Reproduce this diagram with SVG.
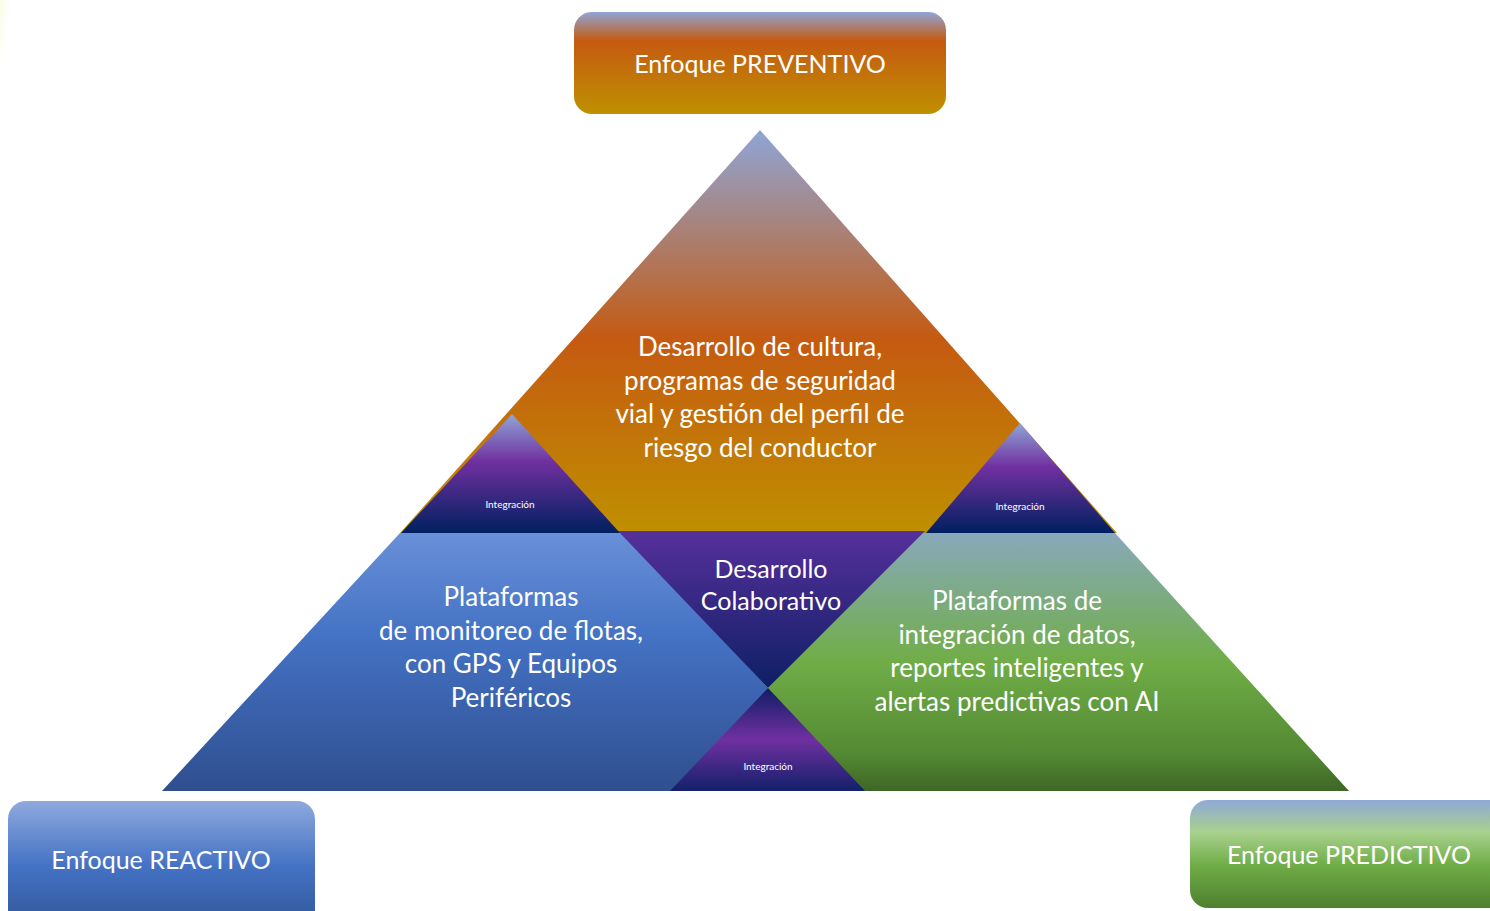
<svg xmlns="http://www.w3.org/2000/svg" width="1490" height="911" viewBox="0 0 1490 911">
<defs>
<linearGradient id="gOr" x1="0" y1="0" x2="0" y2="1">
<stop offset="0" stop-color="#8fa5d6"/><stop offset="0.52" stop-color="#c55a11"/><stop offset="1" stop-color="#bf9000"/>
</linearGradient>
<linearGradient id="gOrBox" x1="0" y1="0" x2="0" y2="1">
<stop offset="0" stop-color="#8fa5d6"/><stop offset="0.28" stop-color="#c55a11"/><stop offset="1" stop-color="#bf9000"/>
</linearGradient>
<linearGradient id="gBl" x1="0" y1="0" x2="0" y2="1">
<stop offset="0" stop-color="#6990d8"/><stop offset="0.4" stop-color="#4472c4"/><stop offset="1" stop-color="#2f4f8f"/>
</linearGradient>
<linearGradient id="gBlBox" x1="0" y1="0" x2="0" y2="1">
<stop offset="0" stop-color="#8fa9dd"/><stop offset="0.5" stop-color="#4472c4"/><stop offset="1" stop-color="#2f5597"/>
</linearGradient>
<linearGradient id="gGr" x1="0" y1="0" x2="0" y2="1">
<stop offset="0" stop-color="#88a9bb"/><stop offset="0.5" stop-color="#70ad47"/><stop offset="0.85" stop-color="#548a33"/><stop offset="1" stop-color="#3e6627"/>
</linearGradient>
<linearGradient id="gGrBox" x1="0" y1="0" x2="0" y2="1">
<stop offset="0" stop-color="#8fa9d6"/><stop offset="0.3" stop-color="#a9d18e"/><stop offset="0.6" stop-color="#70ad47"/><stop offset="1" stop-color="#4e7f2e"/>
</linearGradient>
<linearGradient id="gMid" x1="0" y1="0" x2="0" y2="1">
<stop offset="0" stop-color="#56309a"/><stop offset="1" stop-color="#0e1f66"/>
</linearGradient>
<linearGradient id="gInt" x1="0" y1="0" x2="0" y2="1">
<stop offset="0" stop-color="#8fa5d6"/><stop offset="0.4" stop-color="#7030a0"/><stop offset="1" stop-color="#002060"/>
</linearGradient>
<linearGradient id="gIntB" x1="0" y1="0" x2="0" y2="1">
<stop offset="0" stop-color="#101e66"/><stop offset="0.5" stop-color="#7030a0"/><stop offset="1" stop-color="#12206a"/>
</linearGradient>
<radialGradient id="gGlow" cx="0" cy="0" r="1">
<stop offset="0" stop-color="#e8f060" stop-opacity="0.8"/><stop offset="1" stop-color="#f4f8c0" stop-opacity="0"/>
</radialGradient>
</defs>
<style>
text{font-family:"Lato","Noto Sans",sans-serif;fill:#ffffff;text-anchor:middle}
.big{font-size:26px}
.mid{font-size:25px}
.box{font-size:25px}
.sm{font-size:10px}
</style>
<rect x="0" y="0" width="1490" height="911" fill="#ffffff"/>
<ellipse cx="0" cy="20" rx="14" ry="70" fill="url(#gGlow)"/>

<g id="preventivo-box">
<rect x="574" y="12" width="372" height="102" rx="18" fill="url(#gOrBox)"/>
<text class="box" x="760" y="73">Enfoque PREVENTIVO</text>
</g>

<g id="preventivo">
<polygon points="760,130 400,533 1117,533" fill="url(#gOr)"/>
<text class="big" x="760" y="356">Desarrollo de cultura,</text>
<text class="big" x="760" y="390">programas de seguridad</text>
<text class="big" x="760" y="423">vial y gestión del perfil de</text>
<text class="big" x="760" y="457">riesgo del conductor</text>
</g>

<g id="reactivo">
<polygon points="400,533 624,533 770,690 676,791 162,791" fill="url(#gBl)"/>
<text class="big" x="511" y="606">Plataformas</text>
<text class="big" x="511" y="640">de monitoreo de flotas,</text>
<text class="big" x="511" y="673">con GPS y Equipos</text>
<text class="big" x="511" y="707">Periféricos</text>
</g>

<g id="predictivo">
<polygon points="919,533 1115,533 1349,791 860,791 766,690" fill="url(#gGr)"/>
<text class="big" x="1017" y="610">Plataformas de</text>
<text class="big" x="1017" y="644">integración de datos,</text>
<text class="big" x="1017" y="677">reportes inteligentes y</text>
<text class="big" x="1017" y="711">alertas predictivas con AI</text>
</g>

<g id="colaborativo">
<polygon points="618,531 925,531 768,688" fill="url(#gMid)"/>
<text class="mid" x="771" y="578">Desarrollo</text>
<text class="mid" x="771" y="610">Colaborativo</text>
</g>

<g id="integracion-bottom">
<polygon points="768,688 670,791 865,791" fill="url(#gIntB)"/>
<text class="sm" x="768" y="770">Integración</text>
</g>

<g id="integracion-left">
<polygon points="512,414 401,533 620,533" fill="url(#gInt)"/>
<text class="sm" x="510" y="508">Integración</text>
</g>

<g id="integracion-right">
<polygon points="1020,423 926,533 1115,533" fill="url(#gInt)"/>
<text class="sm" x="1020" y="510">Integración</text>
</g>

<g id="reactivo-box">
<rect x="8" y="801" width="307" height="130" rx="18" fill="url(#gBlBox)"/>
<text class="box" x="161" y="869">Enfoque REACTIVO</text>
</g>

<g id="predictivo-box">
<rect x="1190" y="800" width="330" height="108" rx="18" fill="url(#gGrBox)"/>
<text class="box" x="1349" y="864">Enfoque PREDICTIVO</text>
</g>

<g id="connectors"></g>
</svg>
